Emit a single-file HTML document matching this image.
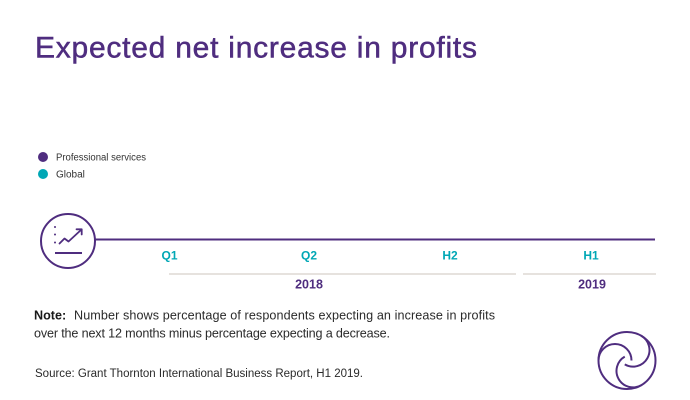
<!DOCTYPE html>
<html>
<head>
<meta charset="utf-8">
<style>
  html, body { margin: 0; padding: 0; background: #ffffff; }
  body { width: 690px; height: 400px; overflow: hidden; }
  svg { display: block; }
  text { font-family: "Liberation Sans", sans-serif; }
</style>
</head>
<body>
<svg width="690" height="400" viewBox="0 0 690 400" xmlns="http://www.w3.org/2000/svg">
  <rect width="690" height="400" fill="#ffffff"/>

  <!-- Title -->
  <text x="35" y="57.5" font-size="30" fill="#4f2d7f" stroke="#4f2d7f" stroke-width="0.5" textLength="442" lengthAdjust="spacing">Expected net increase in profits</text>

  <!-- Legend -->
  <circle cx="43" cy="157" r="5" fill="#4f2d7f"/>
  <text x="56" y="160.5" font-size="10" fill="#333333" textLength="90" lengthAdjust="spacingAndGlyphs">Professional services</text>
  <circle cx="43" cy="174" r="5" fill="#00a7b5"/>
  <text x="56" y="177.5" font-size="10" fill="#333333">Global</text>

  <!-- Icon circle -->
  <circle cx="68" cy="241" r="27" fill="none" stroke="#4f2d7f" stroke-width="2"/>
  <circle cx="55" cy="227" r="1" fill="#4f2d7f"/>
  <circle cx="55" cy="234.5" r="1" fill="#4f2d7f"/>
  <circle cx="55" cy="242.5" r="1" fill="#4f2d7f"/>
  <polyline points="59.5,243.5 64.5,238.5 68.5,241.5 81.5,229.5" fill="none" stroke="#4f2d7f" stroke-width="1.8" stroke-linejoin="round" stroke-linecap="round"/>
  <polyline points="76.5,229.3 81.7,229.3 81.7,234.5" fill="none" stroke="#4f2d7f" stroke-width="1.8" stroke-linejoin="round" stroke-linecap="round"/>
  <line x1="55" y1="253" x2="82" y2="253" stroke="#4f2d7f" stroke-width="2"/>

  <!-- Axis line -->
  <line x1="95" y1="239.5" x2="655" y2="239.5" stroke="#4f2d7f" stroke-width="2"/>

  <!-- Period labels -->
  <g font-size="12" font-weight="bold" fill="#00a7b5" text-anchor="middle">
    <text x="169.5" y="259.5">Q1</text>
    <text x="309" y="259.5">Q2</text>
    <text x="450" y="259.5">H2</text>
    <text x="591" y="259.5">H1</text>
  </g>

  <!-- Year separators -->
  <line x1="169" y1="274" x2="516" y2="274" stroke="#d6d0c9" stroke-width="1.2"/>
  <line x1="523" y1="274" x2="656" y2="274" stroke="#d6d0c9" stroke-width="1.2"/>

  <!-- Year labels -->
  <g font-size="12.5" font-weight="bold" fill="#4f2d7f" text-anchor="middle">
    <text x="309" y="288.5">2018</text>
    <text x="592" y="288.5">2019</text>
  </g>

  <!-- Note -->
  <text x="34" y="319.5" font-size="12.6" font-weight="bold" fill="#1a1a1a">Note:</text>
  <text x="74" y="319.5" font-size="12.6" fill="#2a2a2a" textLength="421" lengthAdjust="spacing">Number shows percentage of respondents expecting an increase in profits</text>
  <text x="34" y="337.5" font-size="12.6" fill="#2a2a2a" textLength="356" lengthAdjust="spacing">over the next 12 months minus percentage expecting a decrease.</text>

  <!-- Source -->
  <text x="35" y="377" font-size="11.5" fill="#2a2a2a" textLength="328" lengthAdjust="spacingAndGlyphs">Source: Grant Thornton International Business Report, H1 2019.</text>

  <!-- Logo -->
  <g fill="none" stroke="#4f2d7f" stroke-width="2">
    <circle cx="627" cy="360.5" r="28.5"/>
    <path d="M 598.5 360.5 A 16.5 16.5 0 0 1 631.5 360.5"/>
    <path d="M 641.25 335.82 A 16.5 16.5 0 0 1 624.75 364.4"/>
    <path d="M 641.25 385.18 A 16.5 16.5 0 0 1 624.75 356.6"/>
  </g>
</svg>
</body>
</html>
